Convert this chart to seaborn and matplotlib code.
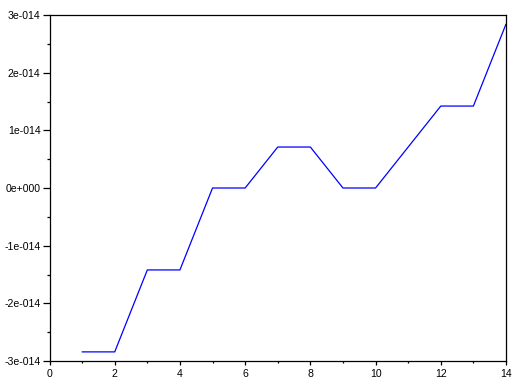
import matplotlib
matplotlib.use("Agg")
import matplotlib.pyplot as plt
import seaborn as sns
import pandas as pd
from matplotlib.ticker import FixedLocator, MultipleLocator

x_vals = [1, 2, 3, 4, 5, 6, 7, 8, 9, 10, 11, 12, 13, 14]
y_vals = [-2.842e-14, -2.842e-14, -1.421e-14, -1.421e-14, 0.0, 0.0,
          7.105e-15, 7.105e-15, 0.0, 0.0, 7.105e-15, 1.421e-14, 1.421e-14, 2.842e-14]
y_ticks = [-3e-14, -2e-14, -1e-14, 0.0, 1e-14, 2e-14, 3e-14]
y_tick_labels = ["-3e-014", "-2e-014", "-1e-014", "0e+000", "1e-014", "2e-014", "3e-014"]
x_ticks = [0, 2, 4, 6, 8, 10, 12, 14]

sns.set_style("white")
plt.rcParams['font.family'] = ['Liberation Sans', 'DejaVu Sans']

df = pd.DataFrame({"x": x_vals, "y": y_vals})
fig = plt.figure(figsize=(5.28, 3.90), dpi=100)
ax = fig.add_axes([49.5/528, 1 - 361/390, (506-49.5)/528, (361-15)/390])
sns.lineplot(data=df, x="x", y="y", ax=ax, color="#0000ff", linewidth=0.9)

ax.set_xlim(0, 14)
ax.set_ylim(-3e-14, 3e-14)
ax.set_xticks(x_ticks)
ax.set_xticklabels([str(t) for t in x_ticks])
ax.xaxis.set_minor_locator(MultipleLocator(1))
ax.set_yticks(y_ticks)
ax.set_yticklabels(y_tick_labels)
ax.yaxis.set_minor_locator(FixedLocator([-2.5e-14, -1.5e-14, -0.5e-14, 0.5e-14, 1.5e-14, 2.5e-14]))
ax.tick_params(axis="y", which="major", direction="out", length=5, width=0.9,
               color="black", labelcolor="black", labelsize=7.6, pad=1.4, left=True)
ax.tick_params(axis="y", which="minor", direction="out", length=2.2, width=0.9,
               color="black", left=True)
ax.tick_params(axis="x", which="major", direction="out", length=3, width=0.9,
               color="black", labelcolor="black", labelsize=7.6, pad=2.8, bottom=True)
ax.tick_params(axis="x", which="minor", direction="out", length=1.5, width=0.9,
               color="black", bottom=True)
for s in ax.spines.values():
    s.set_color("black")
    s.set_linewidth(0.9)
ax.set_xlabel("")
ax.set_ylabel("")
ax.grid(False)
fig.savefig("out.png", dpi=100)
